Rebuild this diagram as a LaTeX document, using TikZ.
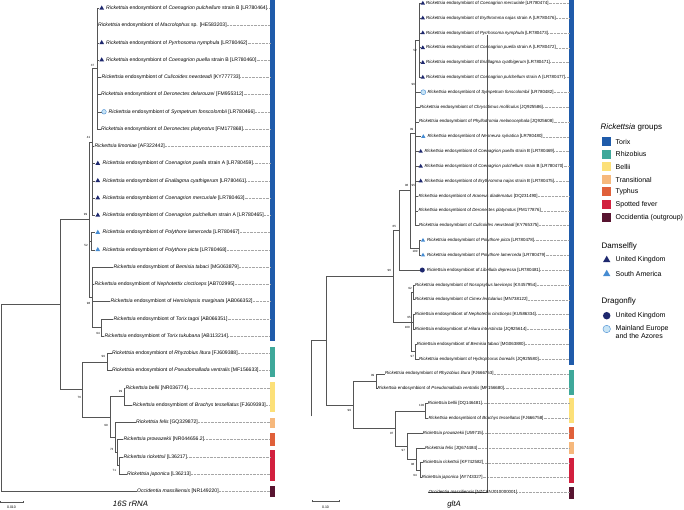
\documentclass[tikz,border=0pt]{standalone}
\usepackage{fontspec}
\setmainfont{Liberation Sans}
\usetikzlibrary{shapes.geometric}
\definecolor{cTorix}{RGB}{31,91,170}
\definecolor{cRhizo}{RGB}{62,168,154}
\definecolor{cBellii}{RGB}{252,224,120}
\definecolor{cTrans}{RGB}{246,184,124}
\definecolor{cTyphus}{RGB}{224,96,58}
\definecolor{cSpot}{RGB}{210,32,62}
\definecolor{cOcc}{RGB}{88,20,48}
\definecolor{cNavy}{RGB}{30,40,110}
\definecolor{cSky}{RGB}{70,140,210}
\definecolor{cPale}{RGB}{200,228,245}
\definecolor{cBranch}{RGB}{85,85,85}
\tikzset{
  br/.style={draw=cBranch, line width=0.55pt},
  lead/.style={draw=gray!70, line width=0.3pt, dash pattern=on 0.8pt off 0.6pt},
  labL/.style={anchor=west, inner sep=0pt, font=\fontsize{5.1}{6}\selectfont},
  labR/.style={anchor=west, inner sep=0pt, font=\fontsize{4.4}{5}\selectfont},
  bs/.style={inner sep=0pt, font=\fontsize{3}{3.5}\selectfont},
  tdk/.style={regular polygon, regular polygon sides=3, fill=cNavy, inner sep=0pt, minimum size=5.6pt},
  tlt/.style={regular polygon, regular polygon sides=3, fill=cSky, inner sep=0pt, minimum size=5.6pt},
  cdk/.style={circle, fill=cNavy, inner sep=0pt, minimum size=4.6pt},
  clt/.style={circle, fill=cPale, draw=cSky, line width=0.4pt, inner sep=0pt, minimum size=4.6pt},
  nomk/.style={inner sep=0pt, minimum size=0pt},
  sq/.style={inner sep=0pt, minimum size=9pt},
  lgt/.style={anchor=west, inner sep=0pt, font=\fontsize{7}{8.4}\selectfont, align=left},
  lgh/.style={anchor=west, inner sep=0pt, font=\fontsize{8}{9}\selectfont},
  ttl/.style={inner sep=0pt, font=\fontsize{7.8}{9}\selectfont\itshape},
  scl/.style={inner sep=0pt, font=\fontsize{3.5}{4}\selectfont},
}
\begin{document}
\begin{tikzpicture}[x=1pt,y=-1pt]
\useasboundingbox (0,0) rectangle (684,510);
% ---------- colour bars ----------
\coordinate (barL) at (270,0);
\coordinate (barR) at (569.3,0);
\fill[cTorix]  (270,0) rectangle (275,341);
\fill[cRhizo]  (270,346.7) rectangle (275,376.7);
\fill[cBellii] (270,381.7) rectangle (275,412.3);
\fill[cTrans]  (270,417.7) rectangle (275,428.3);
\fill[cTyphus] (270,433.3) rectangle (275,445.7);
\fill[cSpot]   (270,450) rectangle (275,480.7);
\fill[cOcc]    (270,485.7) rectangle (275,497.3);
\fill[cTorix]  (569.3,0) rectangle (574.3,365);
\fill[cRhizo]  (569.3,370) rectangle (574.3,395);
\fill[cBellii] (569.3,398.3) rectangle (574.3,423.3);
\fill[cTyphus] (569.3,427.3) rectangle (574.3,439);
\fill[cTrans]  (569.3,442.3) rectangle (574.3,454);
\fill[cSpot]   (569.3,458.3) rectangle (574.3,483.3);
\fill[cOcc]    (569.3,487.3) rectangle (574.3,499);
% ---------- left tree internal nodes ----------
\coordinate (A) at (97,68.675);
\coordinate (B) at (92,141.99);
\coordinate (P) at (91.7,241.175);
\coordinate (L) at (101.7,327.425);
\coordinate (K) at (92,297.24);
\coordinate (C2) at (89.3,219.61);
\coordinate (Rz) at (107.3,361.925);
\coordinate (G) at (124,396.425);
\coordinate (J) at (119.3,465.425);
\coordinate (I) at (117.3,452.49);
\coordinate (H) at (115,437.4);
\coordinate (F) at (110,416.91);
\coordinate (E) at (82.7,389.42);
\coordinate (D) at (60,304.5);
\coordinate (Rt) at (1,397.9);
\foreach \a/\b in {Rt/D,D/C2,D/E,C2/B,C2/P,C2/K,B/A,K/L,E/Rz,E/F,F/G,F/H,H/I,I/J}
  \draw[br] (\a) |- (\b);
% ---------- left tree tips ----------
\foreach \i/\pp/\bx/\mx/\lx/\mk/\txt in {
0/A/99/101.7/106/tdk/{\textit{Rickettsia} endosymbiont of \textit{Coenagrion pulchellum} strain B [LR780464]},
1/A/97.7/97.7/97.9/nomk/{\textit{Rickettsia} endosymbiont of \textit{Macrolophus} sp. [HE583203]},
2/A/99/101.7/106/tdk/{\textit{Rickettsia} endosymbiont of \textit{Pyrrhosoma nymphula} [LR780462]},
3/A/99/101.7/106/tdk/{\textit{Rickettsia} endosymbiont of \textit{Coenagrion puella} strain B [LR780460]},
4/A/101.2/101.2/101.5/nomk/{\textit{Rickettsia} endosymbiont of \textit{Culicoides newsteadi} [KY777733]},
5/A/100.7/100.7/101/nomk/{\textit{Rickettsia} endosymbiont of \textit{Deronectes delarouzei} [FM955312]},
6/A/101.6/104/108.5/clt/{\textit{Rickettsia} endosymbiont of \textit{Sympetrum fonscolombii} [LR780466]},
7/A/100.7/100.7/101/nomk/{\textit{Rickettsia} endosymbiont of \textit{Deronectes platynotus} [FM177868]},
8/B/94/94/94.3/nomk/{\textit{Rickettsia limoniae} [AF322442]},
9/B/95.3/97.8/102.5/tdk/{\textit{Rickettsia} endosymbiont of \textit{Coenagrion puella} strain A [LR780459]},
10/B/95.3/97.8/102.5/tdk/{\textit{Rickettsia} endosymbiont of \textit{Enallagma cyathigerum} [LR780461]},
11/B/95.3/97.8/102.5/tdk/{\textit{Rickettsia} endosymbiont of \textit{Coenagrion mercuriale} [LR780463]},
12/B/95.3/97.8/102.5/tdk/{\textit{Rickettsia} endosymbiont of \textit{Coenagrion pulchellum} strain A [LR780465]},
13/P/95.3/97.8/102.5/tlt/{\textit{Rickettsia} endosymbiont of \textit{Polythore lamerceda} [LR780467]},
14/P/95.3/97.8/102.5/tlt/{\textit{Rickettsia} endosymbiont of \textit{Polythore picta} [LR780468]},
15/K/113/113/113.4/nomk/{\textit{Rickettsia} endosymbiont of \textit{Bemisia tabaci} [MG063879]},
16/K/94/94/94.4/nomk/{\textit{Rickettsia} endosymbiont of \textit{Nephotettix cincticeps} [AB702995]},
17/K/110/110/110.4/nomk/{\textit{Rickettsia} endosymbiont of \textit{Hemiclepsis marginata} [AB066352]},
18/L/113/113/113.4/nomk/{\textit{Rickettsia} endosymbiont of \textit{Torix tagoi} [AB066351]},
19/L/104/104/104.4/nomk/{\textit{Rickettsia} endosymbiont of \textit{Torix tukubana} [AB113214]},
20/Rz/111.5/111.5/111.9/nomk/{\textit{Rickettsia} endosymbiont of \textit{Rhyzobius litura} [FJ609388]},
21/Rz/111.5/111.5/111.9/nomk/{\textit{Rickettsia} endosymbiont of \textit{Pseudomallada ventralis} [MF156633]},
22/G/125/125/125.4/nomk/{\textit{Rickettsia bellii} [NR036774]},
23/G/132/132/132.4/nomk/{\textit{Rickettsia} endosymbiont of \textit{Brachys tessellatus} [FJ609393]},
24/H/135.5/135.5/135.9/nomk/{\textit{Rickettsia felis} [GQ329872]},
25/I/123/123/123.4/nomk/{\textit{Rickettsia prowazekii} [NR044656.2]},
26/J/123/123/123.4/nomk/{\textit{Rickettsia rickettsii} [L36217]},
27/J/126.5/126.5/126.9/nomk/{\textit{Rickettsia japonica} [L36213]},
28/Rt/136.5/136.5/136.9/nomk/{\textit{Occidentia massiliensis} [NR149220]}}{
  \pgfmathsetmacro\yy{8.3+17.25*\i}
  \coordinate (lt\i) at (\bx,\yy);
  \draw[br] (\pp) |- (lt\i);
  \node[\mk] (lm\i) at (\mx,\yy) {};
  \node[labL] (Lt\i) at (\lx,\yy) {\txt};
  \draw[lead] (Lt\i.east) -- (Lt\i.east -| barL);
}
% left bootstrap values
\foreach \n/\x/\y/\v in {a/92.5/65.5/37, b/88.5/137.5/41, c/85.5/214.5/99, d/86/245/52, e/88.5/303/98, f/98/333/94, g/103.3/356.5/99, h/79.3/397/76, k/120.5/391.5/99, m/106/425.5/99, n/111.7/449.5/73, o/114.3/470/71}
  \node[bs] (bL\n) at (\x,\y) {\v};
% ---------- right tree internal nodes ----------
\coordinate (Z1) at (419,40.35);
\coordinate (Y) at (415.7,132.975);
\coordinate (Q) at (419,247.83);
\coordinate (W) at (410.7,190.4);
\coordinate (U) at (399,230.23);
\coordinate (N1) at (413.3,292.29);
\coordinate (N2) at (413.3,321.93);
\coordinate (B1) at (415,351.57);
\coordinate (V) at (411.7,321.93);
\coordinate (T1) at (393.3,276.08);
\coordinate (Rz2) at (376.7,381.21);
\coordinate (G2) at (425.7,410.85);
\coordinate (J2) at (420,470.13);
\coordinate (I2) at (416.7,459.0);
\coordinate (H2) at (407.3,446.04);
\coordinate (F2) at (395.7,428.45);
\coordinate (E2) at (353.3,404.83);
\coordinate (R1) at (326.7,340.46);
\coordinate (Rt2) at (311.7,416.41);
\foreach \a/\b in {Rt2/R1,R1/T1,R1/E2,T1/U,T1/V,U/W,W/Y,W/Q,Y/Z1,V/N1,V/N2,V/B1,E2/Rz2,E2/F2,F2/G2,F2/H2,H2/I2,I2/J2}
  \draw[br] (\a) |- (\b);
% ---------- right tree tips ----------
\foreach \i/\pp/\bx/\mx/\lx/\mk/\txt in {
0/Z1/420.6/422.8/426/tdk/{\textit{Rickettsia} endosymbiont of \textit{Coenagrion mercuriale} [LR780474]},
1/Z1/420.6/422.8/426/tdk/{\textit{Rickettsia} endosymbiont of \textit{Erythromma najas} strain A [LR780476]},
2/Z1/420.6/422.8/426/tdk/{\textit{Rickettsia} endosymbiont of \textit{Pyrrhosoma nymphula} [LR780473]},
3/Z1/420.6/422.8/426/tdk/{\textit{Rickettsia} endosymbiont of \textit{Coenagrion puella} strain A [LR780472]},
4/Z1/420.6/422.8/426/tdk/{\textit{Rickettsia} endosymbiont of \textit{Enallagma cyathigerum} [LR780471]},
5/Z1/420.6/422.8/426/tdk/{\textit{Rickettsia} endosymbiont of \textit{Coenagrion pulchellum} strain A [LR780477]},
6/Y/421/423.3/427.3/clt/{\textit{Rickettsia} endosymbiont of \textit{Sympetrum fonscolombii} [LR780482]},
7/Y/419.8/419.8/420/nomk/{\textit{Rickettsia} endosymbiont of \textit{Chrysotimus molliculus} [JQ925586]},
8/Y/418.8/418.8/419/nomk/{\textit{Rickettsia} endosymbiont of \textit{Phyllodromia melanocephala} [JQ925608]},
9/Y/421.2/423.3/427.3/tlt/{\textit{Rickettsia} endosymbiont of \textit{Neoneura sylvatica} [LR780480]},
10/Y/418.6/420.7/424.3/tdk/{\textit{Rickettsia} endosymbiont of \textit{Coenagrion puella} strain B [LR780469]},
11/Y/418.6/420.7/424.3/tdk/{\textit{Rickettsia} endosymbiont of \textit{Coenagrion pulchellum} strain B [LR780470]},
12/Y/418.6/420.7/424.3/tdk/{\textit{Rickettsia} endosymbiont of \textit{Erythromma najas} strain B [LR780475]},
13/Y/418.1/418.1/418.3/nomk/{\textit{Rickettsia} endosymbiont of \textit{Araneus diadematus} [DQ231490]},
14/Y/418.1/418.1/418.3/nomk/{\textit{Rickettsia} endosymbiont of \textit{Deronectes platynotus} [FM177876]},
15/Y/418.8/418.8/419/nomk/{\textit{Rickettsia} endosymbiont of \textit{Culicoides newsteadi} [KY765375]},
16/Q/420.8/423/427/tlt/{\textit{Rickettsia} endosymbiont of \textit{Polythore picta} [LR780478]},
17/Q/420.8/423/427/tlt/{\textit{Rickettsia} endosymbiont of \textit{Polythore lamerceda} [LR780479]},
18/U/420/422.3/426.7/cdk/{\textit{Rickettsia} endosymbiont of \textit{Libellula depressa} [LR780481]},
19/N1/414.8/414.8/415/nomk/{\textit{Rickettsia} endosymbiont of \textit{Nosopsyllus laeviceps} [KX457954]},
20/N1/414.8/414.8/415/nomk/{\textit{Rickettsia} endosymbiont of \textit{Cimex lectularius} [MN738122]},
21/N2/414.5/414.5/414.7/nomk/{\textit{Rickettsia} endosymbiont of \textit{Nephotettix cincticeps} [KU586334]},
22/N2/414.5/414.5/414.7/nomk/{\textit{Rickettsia} endosymbiont of \textit{Hilara interstincta} [JQ925614]},
23/B1/416.5/416.5/416.7/nomk/{\textit{Rickettsia} endosymbiont of \textit{Bemisia tabaci} [MG063880]},
24/B1/418.8/418.8/419/nomk/{\textit{Rickettsia} endosymbiont of \textit{Hydrophorus borealis} [JQ925580]},
25/Rz2/384.8/384.8/385/nomk/{\textit{Rickettsia} endosymbiont of \textit{Rhyzobius litura} [FJ666753]},
26/Rz2/377.2/377.2/377.4/nomk/{\textit{Rickettsia} endosymbiont of \textit{Pseudomallada ventralis} [MF156680]},
27/G2/427.5/427.5/427.7/nomk/{\textit{Rickettsia bellii} [DQ146481]},
28/G2/428.1/428.1/428.3/nomk/{\textit{Rickettsia} endosymbiont of \textit{Brachys tessellatus} [FJ666758]},
29/H2/422.5/422.5/422.7/nomk/{\textit{Rickettsia prowazekii} [U59715]},
30/I2/424.8/424.8/425/nomk/{\textit{Rickettsia felis} [JQ674484]},
31/J2/422.5/422.5/422.7/nomk/{\textit{Rickettsia rickettsii} [KF742582]},
32/J2/421.5/421.5/421.7/nomk/{\textit{Rickettsia japonica} [AY743327]},
33/Rt2/428.1/428.1/428.3/nomk/{\textit{Occidentia massiliensis} [NZCANJ010000001]}}{
  \pgfmathsetmacro\yy{3.3+14.82*\i}
  \coordinate (rt\i) at (\bx,\yy);
  \draw[br] (\pp) |- (rt\i);
  \node[\mk, minimum size=5pt] (rm\i) at (\mx,\yy) {};
  \node[labR] (Rt\i) at (\lx,\yy) {\txt};
  \draw[lead] (Rt\i.east) -- (Rt\i.east -| barR);
}
% right bootstrap values
\foreach \n/\x/\y/\v in {a/415/50.7/52, b/413.3/84/96, c/411.7/129.3/99, d/406.7/185.7/96, e/413.3/185.7/95, f/394.3/226/65, g/415/251.7/100, h/389.3/270.7/96, k/410/288.3/92, m/409/317.7/95, n/407.3/327.7/100, o/412.3/356/97, p/372.7/375.7/99, q/349.3/410/99, r/421.7/405.7/100, s/391.7/433.3/97, t/403.3/450.7/97, u/412.7/464/98, w/415/475.7/94}
  \node[bs] (bR\n) at (\x,\y) {\v};
% ---------- scale bars and titles ----------
\coordinate (sL1) at (0.5,501.7); \coordinate (sL2) at (23,501.7);
\draw[br, line width=0.4pt] (sL1) -- (sL2);
\draw[br, line width=0.4pt] ([yshift=-1pt]sL1) -- ([yshift=1pt]sL1);
\draw[br, line width=0.4pt] ([yshift=-1pt]sL2) -- ([yshift=1pt]sL2);
\node[scl] (sLt) at (11.5,507.7) {0.010};
\coordinate (sR1) at (311.7,501.3); \coordinate (sR2) at (339.3,501.3);
\draw[br, line width=0.4pt] (sR1) -- (sR2);
\draw[br, line width=0.4pt] ([yshift=-1pt]sR1) -- ([yshift=1pt]sR1);
\draw[br, line width=0.4pt] ([yshift=-1pt]sR2) -- ([yshift=1pt]sR2);
\node[scl] (sRt) at (325.5,507.7) {0.10};
\node[ttl] (t1) at (130.5,503.5) {16S rRNA};
\node[ttl] (t2) at (454,504) {gltA};
% ---------- legend ----------
\node[lgh] (lg0) at (600.5,127.3) {\textit{Rickettsia} groups};
\foreach \n/\c/\y/\t in {1/cTorix/141.7/Torix, 2/cRhizo/154.5/Rhizobius, 3/cBellii/167/Bellii, 4/cTrans/179.5/Transitional, 5/cTyphus/192/Typhus, 6/cSpot/204.7/Spotted fever, 7/cOcc/218/Occidentia (outgroup)}{
  \node[sq, fill=\c] (lsq\n) at (606.2,\y) {};
  \node[lgt] (lgt\n) at (615.5,\y) {\t};
}
\node[lgh] (lgD) at (601.5,246.7) {Damselfly};
\node[tdk, minimum size=8.5pt] (lgm1) at (606.7,260) {};
\node[lgt] (lgl1) at (615.5,260) {United Kingdom};
\node[tlt, minimum size=8.5pt] (lgm2) at (606.7,274) {};
\node[lgt] (lgl2) at (615.5,274) {South America};
\node[lgh] (lgF) at (601.5,301.7) {Dragonfly};
\node[cdk, minimum size=7.5pt] (lgm3) at (606.7,315.7) {};
\node[lgt] (lgl3) at (615.5,315.7) {United Kingdom};
\node[clt, minimum size=7.5pt] (lgm4) at (606.7,329) {};
\node[lgt, anchor=north west] (lgl4) at (615.5,325.3) {Mainland Europe\\and the Azores};
\end{tikzpicture}
\end{document}
